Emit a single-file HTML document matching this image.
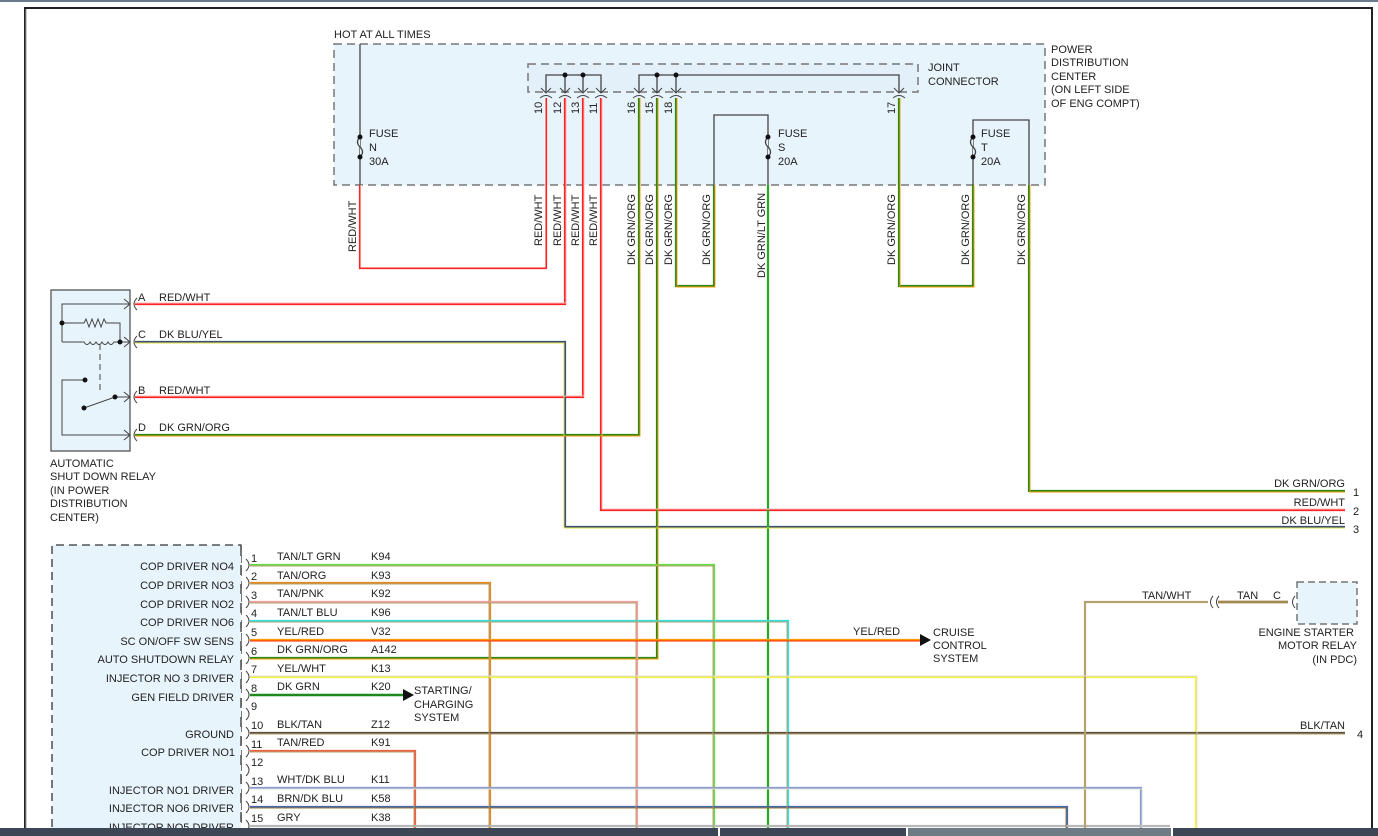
<!DOCTYPE html>
<html><head><meta charset="utf-8"><style>
html,body{margin:0;padding:0;background:#fff;}
svg{display:block;}
text{font-family:"Liberation Sans",sans-serif;font-size:11px;fill:#222;}
</style></head><body>
<svg width="1378" height="836" viewBox="0 0 1378 836" xmlns="http://www.w3.org/2000/svg">
<rect x="0" y="0" width="1378" height="2" fill="#6c7b8a"/>
<path d="M25,836 V8 H1372 V836" fill="none" stroke="#222" stroke-width="2"/>
<path d="M26,836 V9" stroke="#999" stroke-width="1"/>

<!-- PDC -->
<rect x="334" y="44" width="711" height="141" fill="#e8f4fc" stroke="#777" stroke-width="1.5" stroke-dasharray="8,5"/>
<rect x="528" y="64" width="390" height="28" fill="#e3f0fa" stroke="#777" stroke-width="1.5" stroke-dasharray="8,5"/>
<text x="334" y="38">HOT AT ALL TIMES</text>
<text x="1051" y="53">POWER</text><text x="1051" y="66">DISTRIBUTION</text><text x="1051" y="80">CENTER</text><text x="1051" y="93">(ON LEFT SIDE</text><text x="1051" y="107">OF ENG COMPT)</text>
<text x="928" y="71">JOINT</text><text x="928" y="85">CONNECTOR</text>

<g fill="none" stroke="#444" stroke-width="1.3">
<path d="M360,44 V185"/>
<path d="M546,92 V75 H601 V92"/><path d="M565,75 V92"/><path d="M583,75 V92"/>
<path d="M639,92 V75 H899 V92"/><path d="M657,75 V92"/><path d="M676,75 V92"/>
<path d="M714,185 V115 H768 V185"/>
<path d="M973,185 V120 H1029 V185"/>
</g>
<!-- pin arrows -->
<g fill="none" stroke="#444" stroke-width="1">
<path d="M541,88 L546,93 L551,88 M540,98 Q546,93 552,98"/>
<path d="M560,88 L565,93 L570,88 M559,98 Q565,93 571,98"/>
<path d="M578,88 L583,93 L588,88 M577,98 Q583,93 589,98"/>
<path d="M596,88 L601,93 L606,88 M595,98 Q601,93 607,98"/>
<path d="M634,88 L639,93 L644,88 M633,98 Q639,93 645,98"/>
<path d="M652,88 L657,93 L662,88 M651,98 Q657,93 663,98"/>
<path d="M671,88 L676,93 L681,88 M670,98 Q676,93 682,98"/>
<path d="M894,88 L899,93 L904,88 M893,98 Q899,93 905,98"/>
</g>
<g fill="#111">
<circle cx="565" cy="75" r="2.5"/><circle cx="583" cy="75" r="2.5"/><circle cx="657" cy="75" r="2.5"/><circle cx="676" cy="75" r="2.5"/>
</g>
<g font-size="10">
<text transform="translate(542,114) rotate(-90)">10</text>
<text transform="translate(561,114) rotate(-90)">12</text>
<text transform="translate(579,114) rotate(-90)">13</text>
<text transform="translate(597,114) rotate(-90)">11</text>
<text transform="translate(635,114) rotate(-90)">16</text>
<text transform="translate(653,114) rotate(-90)">15</text>
<text transform="translate(672,114) rotate(-90)">18</text>
<text transform="translate(895,114) rotate(-90)">17</text>
</g>
<!-- fuses -->
<g fill="none" stroke="#444" stroke-width="1.3">
<path d="M360,137 q-5,5 0,10 q5,5 0,10" fill="#e8f4fc"/>
<path d="M768,137 q-5,5 0,10 q5,5 0,10" fill="#e8f4fc"/>
<path d="M973,137 q-5,5 0,10 q5,5 0,10" fill="#e8f4fc"/>
</g>
<g fill="#111"><circle cx="360" cy="137" r="2.5"/><circle cx="360" cy="157" r="2.5"/><circle cx="768" cy="137" r="2.5"/><circle cx="768" cy="157" r="2.5"/><circle cx="973" cy="137" r="2.5"/><circle cx="973" cy="157" r="2.5"/></g>
<text x="369" y="137">FUSE</text><text x="369" y="151">N</text><text x="369" y="165">30A</text>
<text x="778" y="137">FUSE</text><text x="778" y="151">S</text><text x="778" y="165">20A</text>
<text x="981" y="137">FUSE</text><text x="981" y="151">T</text><text x="981" y="165">20A</text>

<!-- WIRES: main + tracer -->
<g fill="none" stroke-width="2.2">
<!-- reds -->
<path stroke="#f22" d="M360,185 V268 H546 V98"/>
<path stroke="#f22" d="M565,98 V304 H135"/>
<path stroke="#f22" d="M583,98 V397 H135"/>
<path stroke="#f22" d="M601,98 V510 H1345"/>
<!-- dk blu/yel -->
<path stroke="#3a4f7a" d="M135,342 H565 V527 H1345"/>
<!-- dk grn/org -->
<path stroke="#2a8a1a" d="M639,98 V435 H135"/>
<path stroke="#2a8a1a" d="M657,98 V658 H250"/>
<path stroke="#2a8a1a" d="M676,98 V286 H714 V185"/>
<path stroke="#2a8a1a" d="M899,98 V286 H973 V185"/>
<path stroke="#2a8a1a" d="M1029,185 V491 H1345"/>
<path stroke="#22aa22" d="M768,185 V836"/>
<!-- lower -->
<path stroke="#66dd44" d="M250,565 H714 V836"/>
<path stroke="#e08a20" d="M250,583 H490 V836"/>
<path stroke="#f0a0a0" d="M250,602 H637 V836"/>
<path stroke="#33e0e0" d="M250,621 H788 V836"/>
<path stroke="#ff9900" d="M250,640 H920"/>
<path stroke="#f2f040" d="M250,677 H1196 V836"/>
<path stroke="#1e8a1e" stroke-width="2.6" d="M250,695 H404"/>
<path stroke="#5a5040" d="M250,733 H1345"/>
<path stroke="#ee6040" d="M250,751 H415 V836"/>
<path stroke="#8899cc" d="M250,788 H1141 V836"/>
<path stroke="#4466aa" d="M250,807 H1067 V836"/>
<path stroke="#b8b8b8" d="M250,826 H1170"/>
<path stroke="#b5a070" d="M1085,836 V602 H1208"/>
<path stroke="#a08850" stroke-width="2.8" d="M1218,602 H1288"/>
</g>
<g fill="none" stroke-width="0.9">
<path stroke="#fff" d="M361,185 V267 H545 V98"/>
<path stroke="#fbb" d="M566,98 V303 H135"/>
<path stroke="#fbb" d="M584,98 V396 H135"/>
<path stroke="#fbb" d="M602,98 V509 H1345"/>
<path stroke="#e8e040" d="M135,343 H564 V528 H1345"/>
<path stroke="#ff9900" d="M640,98 V436 H135"/>
<path stroke="#ff9900" d="M658,98 V659 H250"/>
<path stroke="#ff9900" d="M677,98 V287 H715 V185"/>
<path stroke="#ff9900" d="M900,98 V287 H974 V185"/>
<path stroke="#ff9900" d="M1030,185 V492 H1345"/>
<path stroke="#b5a070" d="M250,566 H713 V836"/>
<path stroke="#b5a070" d="M250,584 H489 V836"/>
<path stroke="#b5a070" d="M250,603 H636 V836"/>
<path stroke="#b5a070" d="M250,622 H787 V836"/>
<path stroke="#ff2200" d="M250,641 H920"/>
<path stroke="#ddd" d="M250,676 H1197 V836"/>
<path stroke="#b5a070" d="M250,734 H1345"/>
<path stroke="#b5a070" d="M250,752 H414 V836"/>
<path stroke="#ddd" d="M250,789 H1142 V836"/>
<path stroke="#9a7a30" d="M250,808 H1066 V836"/>
</g>
<!-- arrows -->
<path d="M403,689 L414,695 L403,701 Z" fill="#111"/>
<path d="M920,634 L931,640 L920,646 Z" fill="#111"/>
<!-- relay -->
<rect x="51" y="290" width="79" height="161" fill="#e8f4fc" stroke="#555" stroke-width="1.3"/>
<g fill="none" stroke="#444" stroke-width="1">
<path d="M62,342 V323 H84 l2,-4 l3,8 l3,-8 l3,8 l3,-8 l3,8 l3,-8 l2,4 H120 V342"/>
<path d="M62,342 H84 q3,5 6,0 q3,5 6,0 q3,5 6,0 q3,5 6,0 q3,5 6,0 H130"/>
<path d="M62,323 V304 H130"/>
<path d="M100,344 V390" stroke-dasharray="6,4"/>
<path d="M85,380 H62 V435 H130"/>
<path d="M84,408 L115,397 H130"/>
<path d="M124,299 l6,5 l-6,5 M124,337 l6,5 l-6,5 M124,392 l6,5 l-6,5 M124,430 l6,5 l-6,5"/>
<path d="M137,298 q-6,6 0,12 M137,336 q-6,6 0,12 M137,391 q-6,6 0,12 M137,429 q-6,6 0,12"/>
</g>
<g fill="#111"><circle cx="62" cy="323" r="2.5"/><circle cx="120" cy="342" r="2.5"/><circle cx="85" cy="380" r="2.5"/><circle cx="84" cy="408" r="2.5"/><circle cx="115" cy="397" r="2.5"/></g>
<text x="138" y="301">A</text><text x="159" y="301">RED/WHT</text>
<text x="138" y="338">C</text><text x="159" y="338">DK BLU/YEL</text>
<text x="138" y="394">B</text><text x="159" y="394">RED/WHT</text>
<text x="138" y="431">D</text><text x="159" y="431">DK GRN/ORG</text>
<text x="50" y="467">AUTOMATIC</text><text x="50" y="480">SHUT DOWN RELAY</text><text x="50" y="494">(IN POWER</text><text x="50" y="507">DISTRIBUTION</text><text x="50" y="521">CENTER)</text>

<!-- vertical wire labels -->
<g>
<text transform="translate(356,252) rotate(-90)">RED/WHT</text>
<text transform="translate(542,246) rotate(-90)">RED/WHT</text>
<text transform="translate(561,246) rotate(-90)">RED/WHT</text>
<text transform="translate(579,246) rotate(-90)">RED/WHT</text>
<text transform="translate(597,246) rotate(-90)">RED/WHT</text>
<text transform="translate(635,265) rotate(-90)">DK GRN/ORG</text>
<text transform="translate(653,265) rotate(-90)">DK GRN/ORG</text>
<text transform="translate(672,265) rotate(-90)">DK GRN/ORG</text>
<text transform="translate(710,265) rotate(-90)">DK GRN/ORG</text>
<text transform="translate(765,278) rotate(-90)">DK GRN/LT GRN</text>
<text transform="translate(895,265) rotate(-90)">DK GRN/ORG</text>
<text transform="translate(969,265) rotate(-90)">DK GRN/ORG</text>
<text transform="translate(1025,265) rotate(-90)">DK GRN/ORG</text>
</g>
<!-- right labels -->
<g text-anchor="end">
<text x="1345" y="487">DK GRN/ORG</text><text x="1345" y="506">RED/WHT</text><text x="1345" y="524">DK BLU/YEL</text><text x="1345" y="729">BLK/TAN</text>
</g>
<text x="1353" y="496">1</text><text x="1353" y="515">2</text><text x="1353" y="533">3</text><text x="1357" y="738">4</text>

<!-- lower connector -->
<path d="M241,836 V545 H52 V836" fill="#e8f4fc" stroke="#333" stroke-width="1.3" stroke-dasharray="8,5"/>
<rect x="53" y="546" width="188" height="290" fill="#e8f4fc"/>
<path d="M241,546 V836" stroke="#333" stroke-width="1.3" stroke-dasharray="10,9"/>
<g fill="none" stroke="#444" stroke-width="1">
<path d="M246,559 q6,6 0,12 M246,577 q6,6 0,12 M246,596 q6,6 0,12 M246,615 q6,6 0,12 M246,634 q6,6 0,12 M246,652 q6,6 0,12 M246,671 q6,6 0,12 M246,689 q6,6 0,12 M246,708 q6,6 0,12 M246,727 q6,6 0,12 M246,745 q6,6 0,12 M246,764 q6,6 0,12 M246,782 q6,6 0,12 M246,801 q6,6 0,12 M246,820 q6,6 0,12"/>
</g>
<g text-anchor="end">
<text x="234" y="570">COP DRIVER NO4</text><text x="234" y="589">COP DRIVER NO3</text><text x="234" y="608">COP DRIVER NO2</text><text x="234" y="626">COP DRIVER NO6</text><text x="234" y="645">SC ON/OFF SW SENS</text><text x="234" y="663">AUTO SHUTDOWN RELAY</text><text x="234" y="682">INJECTOR NO 3 DRIVER</text><text x="234" y="701">GEN FIELD DRIVER</text><text x="234" y="738">GROUND</text><text x="235" y="756">COP DRIVER NO1</text><text x="234" y="794">INJECTOR NO1 DRIVER</text><text x="234" y="812">INJECTOR NO6 DRIVER</text><text x="234" y="831">INJECTOR NO5 DRIVER</text>
</g>
<g font-size="10.5">
<text x="251" y="562">1</text><text x="251" y="580">2</text><text x="251" y="599">3</text><text x="251" y="617">4</text><text x="251" y="636">5</text><text x="251" y="655">6</text><text x="251" y="673">7</text><text x="251" y="692">8</text><text x="251" y="710">9</text><text x="251" y="729">10</text><text x="251" y="748">11</text><text x="251" y="766">12</text><text x="251" y="785">13</text><text x="251" y="803">14</text><text x="251" y="822">15</text>
</g>
<text x="277" y="560">TAN/LT GRN</text><text x="371" y="560">K94</text>
<text x="277" y="579">TAN/ORG</text><text x="371" y="579">K93</text>
<text x="277" y="597">TAN/PNK</text><text x="371" y="597">K92</text>
<text x="277" y="616">TAN/LT BLU</text><text x="371" y="616">K96</text>
<text x="277" y="635">YEL/RED</text><text x="371" y="635">V32</text>
<text x="277" y="653">DK GRN/ORG</text><text x="371" y="653">A142</text>
<text x="277" y="672">YEL/WHT</text><text x="371" y="672">K13</text>
<text x="277" y="690">DK GRN</text><text x="371" y="690">K20</text>
<text x="277" y="728">BLK/TAN</text><text x="371" y="728">Z12</text>
<text x="277" y="746">TAN/RED</text><text x="371" y="746">K91</text>
<text x="277" y="783">WHT/DK BLU</text><text x="371" y="783">K11</text>
<text x="277" y="802">BRN/DK BLU</text><text x="371" y="802">K58</text>
<text x="277" y="821">GRY</text><text x="371" y="821">K38</text>
<text x="414" y="694">STARTING/</text><text x="414" y="708">CHARGING</text><text x="414" y="721">SYSTEM</text>
<text x="853" y="635">YEL/RED</text>
<text x="933" y="636">CRUISE</text><text x="933" y="649">CONTROL</text><text x="933" y="662">SYSTEM</text>

<!-- starter relay -->
<text x="1142" y="599">TAN/WHT</text><text x="1237" y="599">TAN</text><text x="1273" y="599">C</text>
<g fill="none" stroke="#444" stroke-width="1"><path d="M1213,596 q-5,6 0,12 M1219,596 q-5,6 0,12 M1295,596 q-5,6 0,12"/></g>
<rect x="1297" y="582" width="60" height="42" fill="#e8f4fc" stroke="#777" stroke-width="1.5" stroke-dasharray="7,4"/>
<g text-anchor="end"><text x="1354" y="636">ENGINE STARTER</text><text x="1357" y="649">MOTOR RELAY</text><text x="1357" y="663">(IN PDC)</text></g>

<!-- bottom bar -->
<rect x="0" y="828" width="718" height="8" fill="#3c4654"/>
<rect x="720" y="828" width="186" height="8" fill="#3c4654"/>
<rect x="908" y="828" width="263" height="8" fill="#6e7b85"/>
<rect x="1173" y="828" width="205" height="8" fill="#3c4654"/>
</svg>
</body></html>
